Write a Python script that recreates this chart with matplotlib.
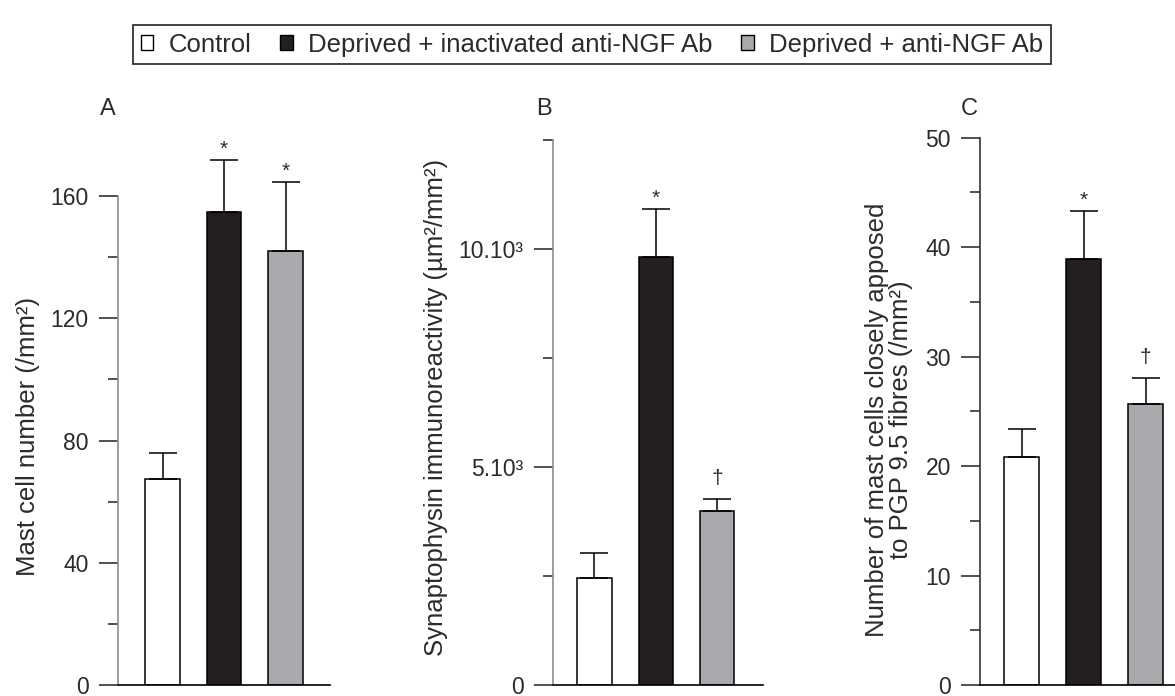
import matplotlib
matplotlib.use("Agg")
import matplotlib.pyplot as plt
from matplotlib.patches import Patch

plt.rcParams['font.family'] = ['Liberation Sans', 'DejaVu Sans']

groups = ["Control", "Deprived + inactivated anti-NGF Ab", "Deprived + anti-NGF Ab"]
colors = ["white", "#231f20", "#a7a9ac"]

# panel A: mast cell number (/mm2)
mast_mean = [67.5, 154.7, 142.0]
mast_err = [8.5, 17.1, 22.5]
mast_marks = ["", "*", "*"]

# panel B: synaptophysin immunoreactivity
syn_mean = [2460, 9820, 3990]
syn_err = [570, 1100, 280]
syn_marks = ["", "*", "\u2020"]

# panel C: mast cells apposed to PGP 9.5 fibres
app_mean = [20.8, 38.9, 25.7]
app_err = [2.6, 4.4, 2.3]
app_marks = ["", "*", "\u2020"]

txt = "#2b2b2b"
W, H = 1175, 696
fig = plt.figure(figsize=(W / 100, H / 100), dpi=100)

bot = 11 / H
hgt = 565 / H

def panel(left_px, width_px, xl, ylim, spine_top, major, minor, ticklabels,
          mean, err, marks, ylabel, lab_x, lab_y, letter, letter_x, spine_col):
    ax = fig.add_axes([left_px / W, bot, width_px / W, hgt])
    x = [0, 1, 2]
    ax.bar(x, mean, width=0.56, color=colors, edgecolor="black", linewidth=1.1, zorder=2)
    ax.errorbar(x, mean, yerr=[[0, 0, 0], err], fmt="none", ecolor="black",
                elinewidth=1.1, capsize=10, capthick=1.1, zorder=3)
    for xi, m, e, s in zip(x, mean, err, marks):
        if s == "*":
            ax.annotate(s, (xi, m + e), xytext=(0, 1), textcoords="offset points",
                        ha="center", va="bottom", fontsize=15, color=txt)
        elif s:
            ax.annotate(s, (xi, m + e), xytext=(0, 8), textcoords="offset points",
                        ha="center", va="bottom", fontsize=15, color=txt)
    ax.set_xlim(*xl)
    ax.set_ylim(*ylim)
    ax.spines["top"].set_visible(False)
    ax.spines["right"].set_visible(False)
    ax.spines["left"].set_bounds(0, spine_top)
    ax.spines["left"].set_color(spine_col)
    ax.spines["left"].set_linewidth(1.2)
    ax.spines["bottom"].set_linewidth(1.2)
    ax.set_xticks([])
    ax.set_yticks(major)
    ax.set_yticklabels(ticklabels)
    ax.set_yticks(minor, minor=True)
    ax.tick_params(axis="y", which="major", length=14, width=1.1, pad=7,
                   labelsize=16.5, colors="#222222", labelcolor=txt)
    ax.tick_params(axis="y", which="minor", length=7.5, width=1.1, colors="#222222")
    ax.set_ylabel(ylabel, fontsize=18.5, color=txt, linespacing=1.0, ha="center")
    ax.yaxis.set_label_coords(lab_x, lab_y)
    fig.text(letter_x / W, 1 - 109 / H, letter, fontsize=17, color=txt,
             ha="center", va="center")
    return ax

panel(117.7, 212.3, (-0.73, 2.72), (0, 184.9), 160,
      [0, 40, 80, 120, 160], [20, 60, 100, 140],
      ["0", "40", "80", "120", "160"],
      mast_mean, mast_err, mast_marks,
      "Mast cell number (/mm\u00b2)", -0.366, 0.44, "A", 107.5, "#8c8c8c")

panel(552.7, 210.3, (-0.68, 2.75), (0, 12960), 12500,
      [0, 5000, 10000], [2500, 7500, 12500],
      ["0", "5.10\u00b3", "10.10\u00b3"],
      syn_mean, syn_err, syn_marks,
      "Synaptophysin immunoreactivity (\u00b5m\u00b2/mm\u00b2)", -0.498, 0.492, "B", 543.5, "#8c8c8c")

panel(980, 195, (-0.67, 2.47), (0, 51.6), 50,
      [0, 10, 20, 30, 40, 50], [5, 15, 25, 35, 45],
      ["0", "10", "20", "30", "40", "50"],
      app_mean, app_err, app_marks,
      "Number of mast cells closely apposed\nto PGP 9.5 fibres (/mm\u00b2)", -0.344, 0.469, "C", 969.5, "#333333")

handles = [Patch(facecolor=c, edgecolor="black", linewidth=1.0) for c in colors]
leg = fig.legend(handles, groups, loc="upper center", bbox_to_anchor=(592 / W, 1 - 12 / H),
                 ncol=3, fontsize=18.5, frameon=True, fancybox=False, edgecolor="black",
                 handlelength=0.5, handleheight=0.5, handletextpad=0.6,
                 columnspacing=1.1, borderpad=0.3, labelcolor=txt)
leg.get_frame().set_linewidth(1.3)

fig.savefig("out.png", dpi=100)
